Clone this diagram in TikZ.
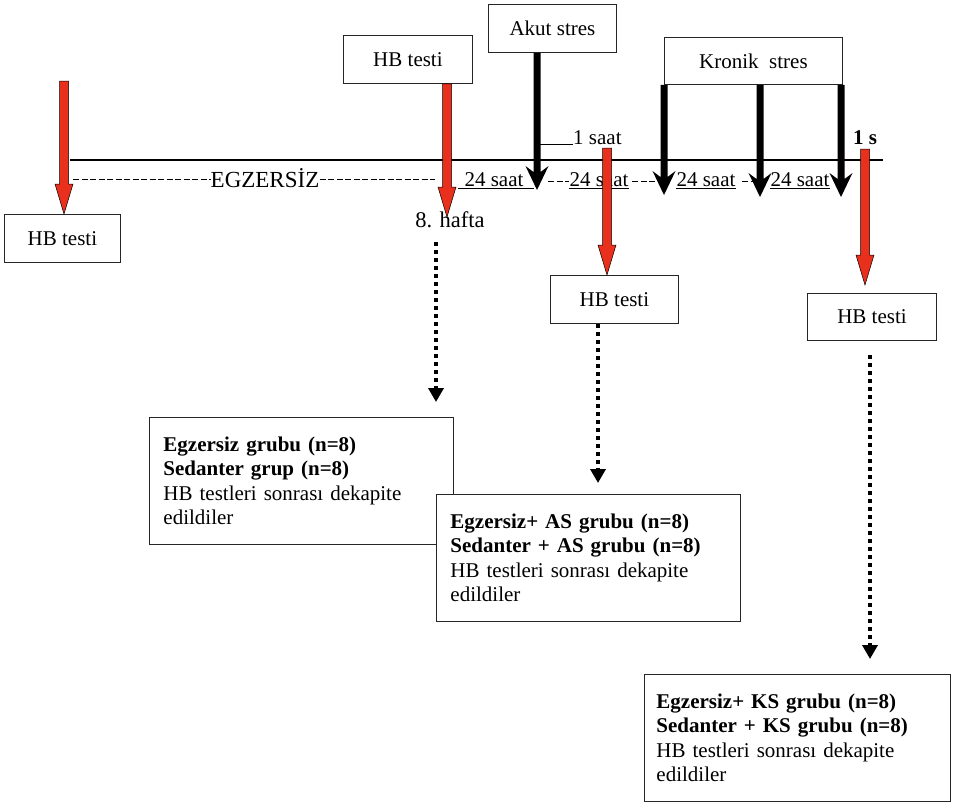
\documentclass[tikz,border=0pt]{standalone}
\usepackage{fontspec}
\setmainfont{Liberation Serif}
\usetikzlibrary{arrows.meta,calc}
\definecolor{hbred}{RGB}{232,48,28}
\tikzset{
  box/.style={draw=black!85, line width=0.9pt, fill=white, inner sep=0pt, anchor=north west,
    font=\fontsize{21}{24.5}\selectfont},
  groupbox/.style={box, align=left, inner xsep=14pt, text width=276pt, minimum height=127pt},
  lbl/.style={inner sep=0pt, font=\fontsize{21}{24.5}\selectfont},
  dashes/.style={line width=1pt, dash pattern=on 6pt off 2.5pt},
  uline/.style={line width=0.7pt},
  dotarrow/.style={line width=4pt, dash pattern=on 4pt off 4pt, -{Triangle[length=14pt,width=15pt]}},
  redarr/.style={draw=black, fill=hbred, line width=0.5pt},
  blackarr/.style={fill=black},
}
\newcommand\RedArrow[2]{%
  \path[redarr] let \p1=(#1), \p2=(#2) in
    (\x1-4.5pt,\y1) -- (\x1+4.5pt,\y1) -- (\x1+4.5pt,\y2+30pt) -- (\x1+9pt,\y2+30pt)
    -- (\x1,\y2) -- (\x1-9pt,\y2+30pt) -- (\x1-4.5pt,\y2+30pt) -- cycle;}
\newcommand\BlackArrow[2]{%
  \path[blackarr] let \p1=(#1), \p2=(#2) in
    (\x1-3.5pt,\y1) -- (\x1+3.5pt,\y1) -- (\x1+3.5pt,\y2+18pt) -- (\x1+11.5pt,\y2+24pt)
    -- (\x1,\y2) -- (\x1-11.5pt,\y2+24pt) -- (\x1-3.5pt,\y2+18pt) -- cycle;}
\begin{document}
\begin{tikzpicture}[x=1pt,y=-1pt]
\useasboundingbox (0,0) rectangle (953,807);

% top boxes
\node[box, minimum width=129pt, minimum height=48pt] (hbtop) at (343,35) {HB testi};
\node[box, minimum width=128pt, minimum height=48pt] (akut) at (488,4) {Akut stres};
\node[box, minimum width=178pt, minimum height=47pt] (kronik) at (664,37) {Kronik\ \ stres};

% timeline
\coordinate (tlA) at (70,160);
\coordinate (tlB) at (883,160);
\draw[line width=1.6pt] (tlA) -- (tlB);

% EGZERSIZ
\node[lbl, font=\fontsize{23}{27}\selectfont] (egz) at (265,178) {EGZERSİZ};
\coordinate (egzL) at (73,179);
\coordinate (egzR) at (435,179);
\draw[dashes] (egzL) -- (egz.west |- egzL);
\draw[dashes] (egz.east |- egzR) -- (egzR);

% 24 saat labels
\node[lbl, anchor=base] (s1) at (494,186) {24 saat};
\node[lbl, anchor=base] (s2) at (599,186) {24 saat};
\node[lbl, anchor=base] (s3) at (706,186) {24 saat};
\node[lbl, anchor=base] (s4) at (800,186) {24 saat};
\draw[uline] ([xshift=-6pt,yshift=-2pt]s1.base west) -- ([xshift=10pt,yshift=-2pt]s1.base east);
\draw[uline] ([yshift=-2pt]s2.base west) -- ([yshift=-2pt]s2.base east);
\draw[uline] ([yshift=-2pt]s3.base west) -- ([yshift=-2pt]s3.base east);
\draw[uline] ([yshift=-2pt]s4.base west) -- ([yshift=-2pt]s4.base east);
\coordinate (da1) at (548,181); \coordinate (da2) at (632,181); \coordinate (da3) at (742,181);
\coordinate (da2e) at (658,181); \coordinate (da3e) at (758,181);
\draw[dashes] (da1) -- (s2.west |- da1);
\draw[dashes] (da2) -- (da2e);
\draw[dashes] (da3) -- (da3e);

% 1 saat and 1 s
\node[lbl, anchor=base west] (saat1) at (573,144) {1 saat};
\coordinate (saatL) at (540,144);
\draw[uline] (saatL) -- (saat1.base west);
\node[lbl, anchor=base west, font=\fontsize{21}{24.5}\selectfont\bfseries] (ones) at (853,144) {1 s};

% 8. hafta
\node[lbl, font=\fontsize{22.5}{26}\selectfont] (hafta) at (450,220) {8. hafta};

% HB testi boxes (lower)
\node[box, minimum width=116pt, minimum height=48pt] (hbleft) at (4,214) {HB testi};
\node[box, minimum width=128pt, minimum height=48pt] (hbmid) at (550,275) {HB testi};
\node[box, minimum width=129pt, minimum height=47pt] (hbright) at (807,293) {HB testi};

% group boxes
\node[groupbox] (gA) at (149,417) {\textbf{Egzersiz grubu (n=8)}\\\textbf{Sedanter grup (n=8)}\\HB testleri sonrası dekapite\\edildiler};
\node[groupbox] (gB) at (436,494) {\textbf{Egzersiz+ AS grubu (n=8)}\\\textbf{Sedanter + AS grubu (n=8)}\\HB testleri sonrası dekapite\\edildiler};
\node[groupbox, inner xsep=12pt, text width=282pt] (gC) at (644,674) {\textbf{Egzersiz+ KS grubu (n=8)}\\\textbf{Sedanter + KS grubu (n=8)}\\HB testleri sonrası dekapite\\edildiler};

% black stress arrows
\coordinate (a1s) at (537,0 |- akut.south);  \coordinate (a1e) at (537,190);
\coordinate (k1s) at (664,0 |- kronik.south); \coordinate (k1e) at (664,195);
\coordinate (k2s) at (760,0 |- kronik.south); \coordinate (k2e) at (760,197);
\coordinate (k3s) at (841,0 |- kronik.south); \coordinate (k3e) at (841,197);
\BlackArrow{a1s}{a1e}
\BlackArrow{k1s}{k1e}
\BlackArrow{k2s}{k2e}
\BlackArrow{k3s}{k3e}

% red arrows
\coordinate (r1s) at (64,81);  \coordinate (r1e) at (64,0 |- hbleft.north);
\coordinate (r2s) at (447,0 |- hbtop.south); \coordinate (r2e) at (447,217);
\coordinate (r3s) at (607,148); \coordinate (r3e) at (607,0 |- hbmid.north);
\coordinate (r4s) at (865,149); \coordinate (r4e) at (865,285);
\RedArrow{r1s}{r1e}
\RedArrow{r2s}{r2e}
\RedArrow{r3s}{r3e}
\RedArrow{r4s}{r4e}

% dotted arrows
\coordinate (d1s) at (436,242); \coordinate (d1e) at (436,402);
\coordinate (d2s) at (598,0 |- hbmid.south); \coordinate (d2e) at (598,483);
\coordinate (d3s) at (870,355); \coordinate (d3e) at (870,659);
\draw[dotarrow] (d1s) -- (d1e);
\draw[dotarrow] (d2s) -- (d2e);
\draw[dotarrow] (d3s) -- (d3e);
\end{tikzpicture}
\end{document}
